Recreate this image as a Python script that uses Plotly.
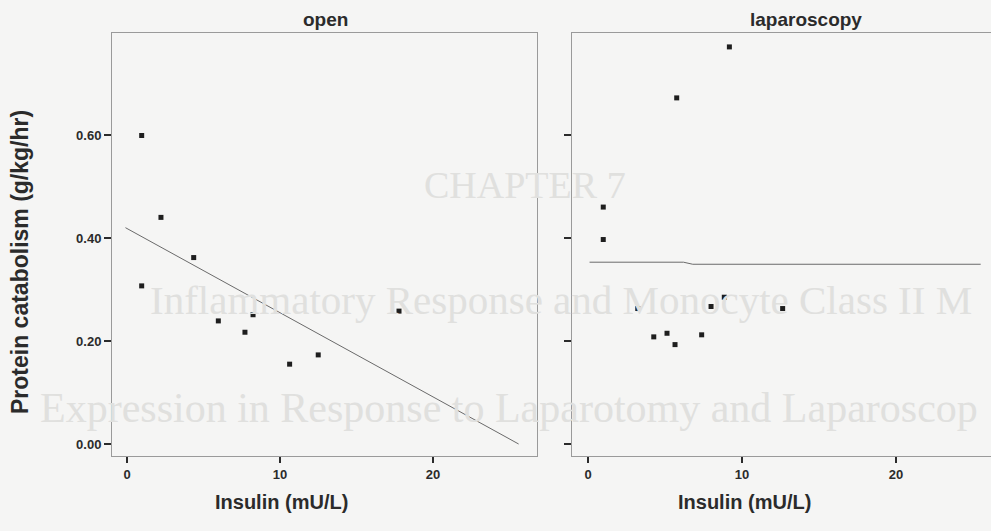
import plotly.graph_objects as go

# ---- data ----
open_insulin = [0.96, 2.22, 4.36, 0.96, 5.97, 8.24, 7.71, 10.63, 12.5, 17.78]
open_protein = [0.599, 0.440, 0.362, 0.307, 0.239, 0.251, 0.217, 0.155, 0.173, 0.258]
open_fit_x = [-0.1, 25.6]
open_fit_y = [0.420, 0.0]

lap_insulin = [9.18, 5.76, 0.99, 0.99, 3.23, 4.27, 5.13, 5.65, 7.38, 7.99, 8.85, 12.64]
lap_protein = [0.771, 0.672, 0.460, 0.397, 0.263, 0.208, 0.215, 0.193, 0.212, 0.267, 0.285, 0.263]
lap_fit_x = [0.1, 6.2, 6.8, 25.5]
lap_fit_y = [0.353, 0.353, 0.349, 0.349]

x_ticks = [0, 10, 20]
y_ticks = [0.0, 0.2, 0.4, 0.6]
y_ticklabels = ["0.00", "0.20", "0.40", "0.60"]
panel_titles = ["open", "laparoscopy"]
x_title = "Insulin (mU/L)"
y_title = "Protein catabolism (g/kg/hr)"
ghost_lines = ["CHAPTER 7",
               "Inflammatory Response and Monocyte Class II M",
               "Expression in Response to Laparotomy and Laparoscop"]

W, H = 991, 531
FONT = "Arial, 'Liberation Sans', sans-serif"
BG = "#f5f5f4"
INK = "#2b2b2b"

def px(x):
    return x / W

def py(y):
    return (H - y) / H

fig = go.Figure()

marker = dict(symbol="square", size=5, color="#1e1e1e")
line = dict(color="#6a6a6a", width=1)

fig.add_trace(go.Scatter(x=open_insulin, y=open_protein, mode="markers", marker=marker,
                         xaxis="x", yaxis="y", showlegend=False))
fig.add_trace(go.Scatter(x=open_fit_x, y=open_fit_y, mode="lines", line=line,
                         xaxis="x", yaxis="y", showlegend=False))
fig.add_trace(go.Scatter(x=lap_insulin, y=lap_protein, mode="markers", marker=marker,
                         xaxis="x2", yaxis="y2", showlegend=False))
fig.add_trace(go.Scatter(x=lap_fit_x, y=lap_fit_y, mode="lines", line=line,
                         xaxis="x2", yaxis="y2", showlegend=False))

ydom = [py(456), py(33)]
yrange = [-0.0233, 0.798]

common_x = dict(tickvals=x_ticks, ticks="outside", ticklen=6, tickwidth=2, tickcolor=INK,
                showgrid=False, zeroline=False, showline=True, linecolor="#9a9a9a", linewidth=1,
                mirror=True, tickfont=dict(family=FONT, size=13, color=INK, weight="bold"))
common_y = dict(tickvals=y_ticks, ticktext=y_ticklabels, ticks="outside", ticklen=7, tickwidth=2,
                tickcolor=INK, showgrid=False, zeroline=False, showline=True, linecolor="#9a9a9a",
                linewidth=1, range=yrange, domain=ydom,
                tickfont=dict(family=FONT, size=13, color=INK, weight="bold"))

fig.update_layout(
    width=W, height=H,
    margin=dict(l=0, r=0, t=0, b=0),
    paper_bgcolor=BG, plot_bgcolor=BG,
    xaxis=dict(domain=[px(112), px(537)], range=[-0.98, 26.8], anchor="y", **common_x),
    yaxis=dict(anchor="x", mirror=True, **common_y),
    xaxis2=dict(domain=[px(572), 1.0], range=[-1.04, 26.17], anchor="y2", **common_x),
    yaxis2=dict(anchor="x2", mirror=False, showticklabels=False, **common_y),
)

def note(text, x, y, font, xanchor="center", angle=0):
    return dict(text=text, x=px(x), y=py(y), xref="paper", yref="paper",
                xanchor=xanchor, yanchor="middle", showarrow=False,
                textangle=angle, font=font)

ann = []
# faint bleed-through text from the scanned page
ghost_font = dict(family="'Liberation Serif', 'DejaVu Serif', serif", color="#e0e0de")
ann.append(note(ghost_lines[0], 525, 185, dict(size=38, **ghost_font)))
ann.append(note(ghost_lines[1], 148, 300, dict(size=41, **ghost_font), xanchor="left"))
ann.append(note(ghost_lines[2], 38, 408, dict(size=42, **ghost_font), xanchor="left"))

ptitle_font = dict(family=FONT, size=19, color=INK, weight="bold")
axtitle_font = dict(family=FONT, size=20, color=INK, weight="bold")
ytitle_font = dict(family=FONT, size=23, color=INK, weight="bold")
ann.append(note(panel_titles[0], 325, 19, ptitle_font))
ann.append(note(panel_titles[1], 806, 19, ptitle_font))
ann.append(note(x_title, 281, 502, axtitle_font))
ann.append(note(x_title, 744, 502, axtitle_font))
ann.append(note(y_title, 20, 262, ytitle_font, angle=-90))
fig.update_layout(annotations=ann)

fig.write_html("out.html", config={"displayModeBar": False},
               post_script="document.body.style.margin='0';document.body.style.overflow='hidden';")
